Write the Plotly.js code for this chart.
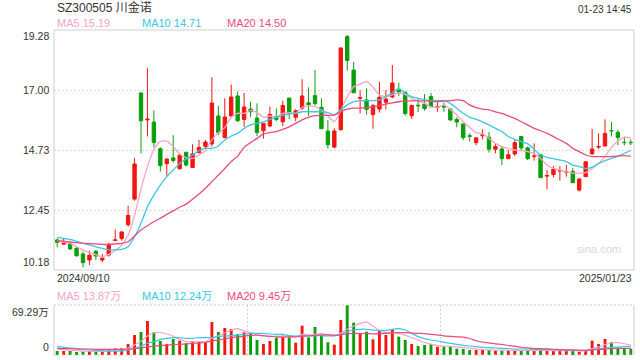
<!DOCTYPE html>
<html><head><meta charset="utf-8">
<script src="https://cdn.plot.ly/plotly-3.0.1.min.js"></script>
<style>html,body{margin:0;padding:0;background:#fff;}#chart{width:640px;height:360px;}</style>
</head><body><div id="chart"></div>
<script>
// ---------- data ----------
const stockCode = 'SZ300505';
const stockName = '川金诺';
const timeStamp = '01-23 14:45';
const startDate = '2024/09/10';
const endDate = '2025/01/23';

const openP = [11.32,11.16,11.19,11.00,10.79,10.56,10.89,10.56,10.75,11.30,
11.37,11.90,12.87,16.89,15.87,15.79,14.78,14.21,14.43,14.02,
14.64,14.07,14.63,14.86,14.96,16.02,15.20,16.02,16.78,15.89,
16.28,15.94,15.46,15.64,15.99,15.80,16.70,15.97,16.32,16.52,
16.79,16.35,15.45,14.84,15.50,19.03,17.76,16.69,16.63,16.07,
16.28,16.54,16.74,17.00,16.92,16.03,16.43,16.47,16.76,16.34,
16.39,16.28,15.89,15.72,15.27,15.01,15.27,15.21,14.76,14.77,
14.40,14.58,15.24,14.81,14.49,14.55,13.74,13.80,13.93,13.89,
13.92,13.21,13.72,14.59,14.84,14.88,15.47,15.40,15.02,15.02];
const highP = [11.38,11.36,11.29,11.06,10.88,10.91,10.94,10.79,11.22,11.72,
11.66,12.61,14.43,16.92,17.83,16.23,14.83,14.41,15.29,14.58,
14.67,14.95,15.11,15.11,17.49,16.40,16.69,17.21,16.95,16.90,
16.56,16.50,15.74,16.37,16.31,16.60,16.70,16.27,17.41,17.11,
17.76,16.69,15.87,15.55,18.62,19.09,18.07,17.00,17.07,16.47,
17.32,17.00,17.95,17.28,16.95,16.45,16.69,16.85,16.90,16.53,
16.53,16.31,15.97,15.72,15.36,15.21,15.51,15.41,14.98,14.86,
14.73,15.13,15.26,14.86,14.98,14.58,13.97,14.12,14.12,14.17,
14.05,13.66,14.30,15.53,15.36,15.89,15.79,15.49,15.24,15.13];
const lowP = [11.04,11.14,10.94,10.69,10.28,10.37,10.56,10.47,10.69,11.27,
11.29,11.82,12.81,14.60,15.24,14.83,13.91,13.76,14.25,13.99,
14.10,14.05,14.60,14.76,14.86,15.29,15.17,15.97,15.79,15.61,
15.97,15.26,15.16,15.59,15.82,15.64,15.89,15.82,16.25,16.02,
16.41,15.54,14.78,14.79,15.46,17.74,16.90,16.12,16.07,15.54,
16.15,16.27,16.69,16.78,16.04,15.91,16.17,16.22,16.35,16.18,
16.18,15.84,15.59,15.11,15.05,14.91,15.13,14.63,14.60,14.16,
14.40,14.50,14.73,14.35,14.33,13.68,13.24,13.69,13.57,13.72,
13.49,13.15,13.72,14.54,14.76,14.88,15.24,14.92,14.91,14.91];
const closeP = [11.23,11.19,10.98,10.72,10.46,10.74,10.71,10.63,11.15,11.32,
11.62,12.25,14.20,15.84,15.90,15.01,14.14,14.39,14.33,14.53,
14.16,14.58,14.83,15.03,16.51,15.39,15.98,16.74,15.84,16.36,
16.18,15.39,15.74,16.08,15.89,16.42,16.12,16.22,16.78,16.45,
16.49,15.54,14.93,15.45,18.60,18.12,16.90,16.72,16.27,16.42,
16.73,16.66,17.27,16.90,16.11,16.42,16.41,16.30,16.37,16.38,
16.36,15.87,15.79,15.20,15.25,15.19,15.30,14.76,14.86,14.41,
14.55,15.01,14.81,14.40,14.50,13.68,13.76,14.00,13.95,13.91,
13.49,13.63,14.28,14.77,14.86,15.36,15.46,15.20,15.01,15.01];

const ma5 = [11.29,11.24,11.19,11.06,10.94,10.84,10.76,10.68,10.77,10.92,
11.12,11.50,12.25,13.25,14.10,14.75,15.05,15.07,14.86,14.58,
14.44,14.41,14.54,14.70,15.12,15.38,15.58,15.97,16.12,16.12,
16.22,16.15,15.97,16.02,15.97,16.12,16.15,16.12,16.35,16.40,
16.37,16.25,16.02,15.80,16.22,16.75,17.13,17.23,17.32,17.11,
16.82,16.75,16.82,16.90,16.84,16.69,16.59,16.50,16.37,16.35,
16.44,16.27,16.06,15.80,15.59,15.39,15.34,15.17,14.98,14.86,
14.79,14.73,14.70,14.67,14.60,14.41,14.16,14.03,13.97,13.91,
13.85,13.85,13.87,14.03,14.22,14.48,14.83,15.07,15.21,15.19];
const ma10 = [11.42,11.38,11.34,11.27,11.19,11.13,11.06,11.00,10.94,10.94,
10.96,11.06,11.44,11.95,12.58,13.02,13.40,13.72,13.97,14.22,
14.38,14.54,14.70,14.79,14.79,14.88,15.11,15.26,15.36,15.55,
15.68,15.74,15.80,15.89,15.97,16.04,16.10,16.12,16.18,16.18,
16.18,16.18,16.15,16.06,16.25,16.44,16.56,16.60,16.60,16.60,
16.63,16.75,16.90,17.07,16.88,16.75,16.69,16.63,16.60,16.60,
16.60,16.50,16.31,16.12,15.97,15.89,15.80,15.68,15.55,15.43,
15.24,15.13,15.05,14.96,14.76,14.53,14.45,14.40,14.35,14.29,
14.16,14.10,14.03,14.07,14.22,14.33,14.41,14.50,14.60,14.71];
const ma20 = [11.29,11.27,11.24,11.22,11.19,11.18,11.17,11.15,11.15,11.17,
11.19,11.25,11.47,11.70,11.86,12.01,12.14,12.29,12.42,12.56,
12.68,12.86,13.06,13.28,13.53,13.78,14.03,14.29,14.50,14.83,
15.01,15.17,15.34,15.39,15.43,15.51,15.61,15.74,15.87,15.97,
16.03,16.04,16.04,16.06,16.18,16.28,16.32,16.32,16.34,16.37,
16.42,16.47,16.52,16.56,16.59,16.59,16.59,16.59,16.58,16.56,
16.59,16.60,16.63,16.60,16.44,16.34,16.28,16.25,16.18,16.12,
16.02,15.93,15.80,15.68,15.55,15.46,15.36,15.24,15.11,14.98,
14.79,14.67,14.54,14.48,14.48,14.48,14.48,14.50,14.52,14.50];

// volume in 万 (10k shares)
const volume = [5.5,5.5,5.5,4.2,4.6,5.5,4.6,4.2,7.9,9.2,
9.2,15.2,27.7,31.9,47.1,31.4,19.4,15.2,22.2,19.9,
16.2,18.5,18.5,18.5,45.7,31.9,37.4,36.0,29.1,31.4,
30.0,20.8,15.2,19.4,24.0,26.8,24.5,17.1,40.6,24.5,
38.8,27.7,17.6,14.3,48.5,69.29,44.8,30.0,32.3,21.7,
33.3,27.7,35.6,25.4,20.8,15.2,12.5,13.9,15.2,11.5,
11.5,12.5,8.8,8.3,6.9,6.9,6.9,6.9,6.0,6.0,
6.0,6.9,6.0,6.9,6.0,8.3,6.0,6.0,6.0,6.0,
6.9,4.6,6.0,19.9,15.2,22.2,17.6,10.6,8.8,8.8];
const vma5 = [8.3,7.5,6.5,6.0,5.5,5.2,5.0,5.0,5.4,6.3,
7.5,9.5,14.0,19.0,26.5,30.8,31.2,29.1,26.0,21.6,
18.6,18.5,18.6,18.5,23.5,26.5,30.5,34.5,36.5,33.5,
30.9,28.6,26.3,25.4,26.3,25.4,25.4,25.4,28.6,27.7,
28.6,30.0,27.7,26.3,30.0,36.0,40.2,43.9,45.5,40.2,
33.5,31.0,31.0,29.5,27.5,24.0,21.0,17.5,15.0,13.2,
12.3,12.0,11.2,10.2,9.4,8.5,7.6,7.1,6.8,6.9,
6.6,6.4,6.4,6.5,6.2,6.6,6.4,6.2,6.2,6.2,
6.0,5.9,5.8,9.0,11.0,14.4,16.6,17.1,15.6,13.87];
const vma10 = [11.5,10.6,9.7,8.8,7.9,6.9,6.5,6.0,5.5,5.5,
5.5,6.9,9.2,12.5,16.2,18.5,21.7,23.1,24.0,24.0,
23.1,23.1,24.0,24.0,24.0,25.4,26.3,26.8,27.7,28.6,
30.0,30.0,30.0,29.1,28.6,28.6,26.8,26.3,26.3,26.8,
26.8,26.8,26.3,26.8,28.6,32.3,34.6,35.6,35.6,34.6,
34.2,33.7,35.6,36.5,34.6,30.0,25.4,22.6,20.8,19.4,
17.6,16.2,14.8,13.4,12.5,11.5,10.6,10.2,9.7,9.2,
8.8,8.3,8.3,8.3,7.9,7.9,7.9,7.4,7.0,7.0,
6.8,6.6,6.5,7.9,8.8,9.7,10.6,11.0,11.6,12.24];
const vma20 = [9.2,8.8,8.8,8.3,8.3,8.3,7.9,7.9,7.9,7.9,
7.9,8.3,9.0,10.0,11.2,12.2,13.0,13.7,14.3,14.8,
15.3,16.0,16.6,17.3,19.4,20.7,22.4,24.0,25.0,26.1,
27.2,27.4,26.8,26.2,25.0,24.8,25.1,25.2,26.1,26.3,
27.4,27.9,27.9,27.6,27.8,29.6,30.0,29.7,29.9,29.4,
29.6,29.9,30.9,31.2,31.1,30.5,29.9,29.7,28.5,27.8,
26.4,25.7,25.2,24.9,22.9,19.7,17.8,16.7,15.4,14.6,
13.2,12.2,10.7,9.8,9.0,8.7,8.4,8.0,7.5,7.2,
7.0,6.6,6.5,7.1,7.5,8.2,8.8,9.0,9.1,9.45];

const priceTicks = [19.28, 17.00, 14.73, 12.45, 10.18];
const priceTickText = ['19.28', '17.00', '14.73', '12.45', '10.18'];
const volTicks = [69.29, 0];
const volTickText = ['69.29万', '0'];
const maNames = ['MA5', 'MA10', 'MA20'];
const maLast = ['15.19', '14.71', '14.50'];
const volMaLast = ['13.87万', '12.24万', '9.45万'];

// ---------- styling ----------
const RED = '#f2170f', GREEN = '#0b9e0b';
const MA_COLORS = ['#fba3c2', '#3bc6e6', '#ec4a7e'];
const FONT = 'Liberation Sans, Arial, Noto Sans CJK SC, sans-serif';
const TXT = '#333333';

const idx = openP.map((_, i) => i);
const volColors = idx.map(i => closeP[i] >= openP[i] ? RED : GREEN);

// pixel helpers (plot area: left 54, right 634, top 30, bottom 355)
const PL = 54, PW = 580, PB = 355, PH = 325;
const px = p => (p - PL) / PW;
const py = p => (PB - p) / PH;
const mainBottom = py(270), volTop = py(305);

const traces = [
  {type: 'candlestick', x: idx, open: openP, high: highP, low: lowP, close: closeP,
   xaxis: 'x', yaxis: 'y', hoverinfo: 'skip', showlegend: false,
   increasing: {line: {color: RED, width: 1}, fillcolor: RED},
   decreasing: {line: {color: GREEN, width: 1}, fillcolor: GREEN}},
];
[ma5, ma10, ma20].forEach((arr, k) => traces.push({
  type: 'scatter', mode: 'lines', x: idx, y: arr, xaxis: 'x', yaxis: 'y',
  line: {color: MA_COLORS[k], width: 1.3, shape: 'spline', smoothing: 0.6},
  hoverinfo: 'skip', showlegend: false}));
traces.push({type: 'bar', x: idx, y: volume, xaxis: 'x2', yaxis: 'y2', width: 0.45,
  marker: {color: volColors, line: {width: 0}}, hoverinfo: 'skip', showlegend: false});
[vma5, vma10, vma20].forEach((arr, k) => traces.push({
  type: 'scatter', mode: 'lines', x: idx, y: arr, xaxis: 'x2', yaxis: 'y2',
  line: {color: MA_COLORS[k], width: 1.2, shape: 'spline', smoothing: 0.6},
  hoverinfo: 'skip', showlegend: false}));

const ann = [];
const addText = (o) => ann.push(Object.assign({showarrow: false, xref: 'paper', yref: 'paper',
  font: {family: FONT, size: 10.5, color: TXT}}, o));

addText({text: stockCode + ' ' + stockName, x: px(55), y: py(8), xanchor: 'left', yanchor: 'middle', font: {family: FONT, size: 12, color: TXT}});
addText({text: timeStamp, x: px(634), y: py(9), xanchor: 'right', yanchor: 'middle', font: {family: FONT, size: 10, color: TXT}});
const legX = [55, 140, 225];
maNames.forEach((n, k) => {
  addText({text: n + ' ' + maLast[k], x: px(legX[k]), y: py(23), xanchor: 'left', yanchor: 'middle', font: {family: FONT, size: 11, color: MA_COLORS[k]}});
  addText({text: n + ' ' + volMaLast[k], x: px(legX[k]), y: py(296), xanchor: 'left', yanchor: 'middle', font: {family: FONT, size: 11, color: MA_COLORS[k]}});
});
priceTicks.forEach((v, k) => {
  const anchor = k === 0 ? 'top' : (k === priceTicks.length - 1 ? 'bottom' : 'middle');
  ann.push({showarrow: false, xref: 'paper', yref: 'y', x: px(51), y: v, xanchor: 'right', yanchor: anchor,
    yshift: k === 0 ? 2 : 0,
    text: priceTickText[k], font: {family: FONT, size: 10.5, color: TXT}});
});
volTicks.forEach((v, k) => {
  ann.push({showarrow: false, xref: 'paper', yref: 'y2', x: px(51), y: v, xanchor: 'right', yanchor: k === 0 ? 'top' : 'bottom',
    yshift: k === 0 ? 1 : 0,
    text: volTickText[k], font: {family: FONT, size: 10.5, color: TXT}});
});
addText({text: startDate, x: px(55), y: py(278), xanchor: 'left', yanchor: 'middle'});
addText({text: endDate, x: px(634), y: py(278), xanchor: 'right', yanchor: 'middle'});
addText({text: 'sina.com', x: px(623), y: py(249), xanchor: 'right', yanchor: 'middle', font: {family: FONT, size: 11, color: '#d8d8d8'}});

const BORDER = '#cfcfcf';
const shapes = [
  {type: 'rect', xref: 'paper', yref: 'paper', x0: 0, x1: 1, y0: mainBottom, y1: 1, line: {color: BORDER, width: 1}},
  {type: 'line', xref: 'paper', yref: 'paper', x0: 0, x1: 0, y0: 0, y1: volTop, line: {color: BORDER, width: 1}},
  {type: 'line', xref: 'paper', yref: 'paper', x0: 1, x1: 1, y0: 0, y1: volTop, line: {color: BORDER, width: 1}},
  {type: 'line', xref: 'paper', yref: 'paper', x0: 0, x1: 1, y0: volTop, y1: volTop, line: {color: BORDER, width: 1, dash: '2px,2px'}},
  {type: 'line', xref: 'paper', yref: 'paper', x0: 0, x1: 1, y0: 0, y1: 0, line: {color: BORDER, width: 1, dash: '2px,2px'}},
];

const layout = {
  width: 640, height: 360,
  margin: {l: PL, r: 640 - PL - PW, t: 30, b: 360 - PB},
  paper_bgcolor: '#ffffff', plot_bgcolor: '#ffffff',
  showlegend: false, boxgap: 0.25,
  font: {family: FONT, size: 10.5, color: TXT},
  xaxis: {range: [-0.5, idx.length - 0.5], showgrid: false, showticklabels: false, zeroline: false,
    showline: false, ticks: '', anchor: 'y', rangeslider: {visible: false}, fixedrange: true},
  yaxis: {domain: [mainBottom, 1], range: [priceTicks[priceTicks.length - 1], priceTicks[0]],
    tickvals: priceTicks.slice(1, -1), showticklabels: false, ticks: '',
    showgrid: true, gridcolor: '#dadada', griddash: '2px,2px', gridwidth: 1, zeroline: false, showline: false, fixedrange: true},
  xaxis2: {range: [-0.5, idx.length - 0.5], anchor: 'y2', showticklabels: false, ticks: '', zeroline: false,
    tickvals: [(idx.length) / 3 - 0.5, 2 * idx.length / 3 - 0.5], showgrid: true, gridcolor: '#d0d0d0', griddash: '2px,2px', gridwidth: 1, showline: false, fixedrange: true},
  yaxis2: {domain: [0, volTop], range: [0, volTicks[0]], showgrid: false, showticklabels: false, ticks: '',
    zeroline: false, showline: false, fixedrange: true},
  annotations: ann,
  shapes: shapes,
};

Plotly.newPlot('chart', traces, layout, {displayModeBar: false, staticPlot: true});
</script>
</body></html>
